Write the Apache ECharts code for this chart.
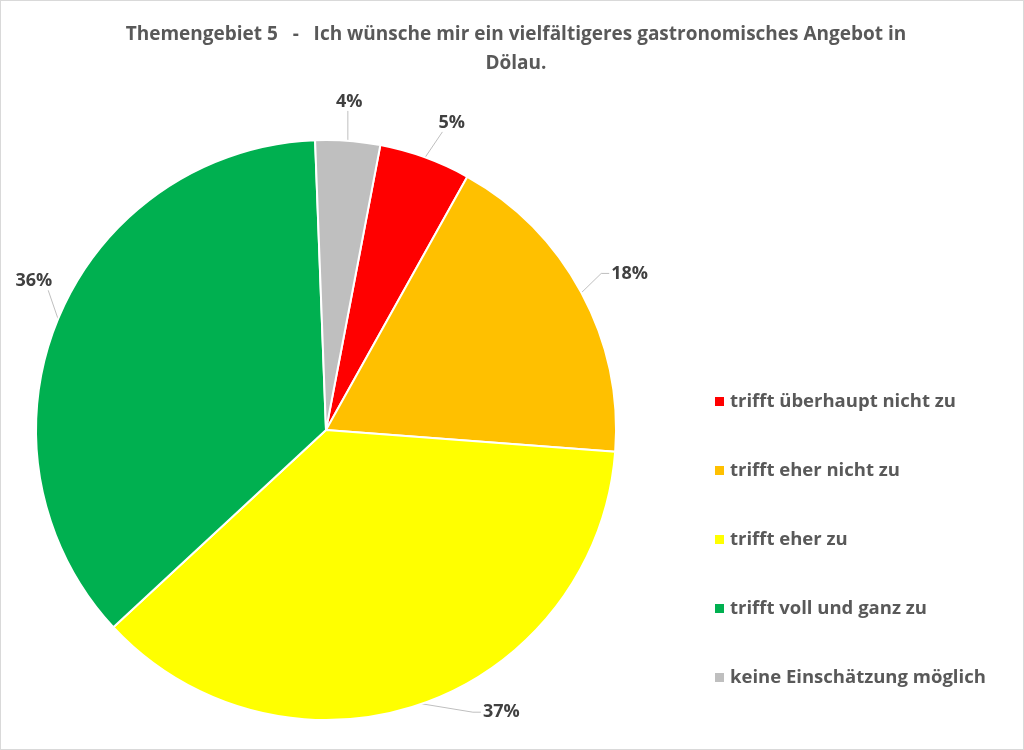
<!DOCTYPE html>
<html>
<head>
<meta charset="utf-8">
<script src="https://cdn.jsdelivr.net/npm/echarts@6/dist/echarts.min.js"></script>
<style>
html,body{margin:0;padding:0;background:#fff;}
#chart{width:1022px;height:748px;border:1px solid #d9d9d9;}
</style>
</head>
<body>
<div id="chart"></div>
<script>
// Kategorien und Anteile (aus dem Bild geschätzt, in %)
const categories = ['trifft überhaupt nicht zu', 'trifft eher nicht zu', 'trifft eher zu', 'trifft voll und ganz zu', 'keine Einschätzung möglich'];
const shares = [5.1, 18.1, 36.9, 36.3, 3.6];
const colors = ['#FF0000', '#FFC000', '#FFFF00', '#00B050', '#BFBFBF'];

const titleText = 'Themengebiet 5   -   Ich wünsche mir ein vielfältigeres gastronomisches Angebot in\nDölau.';

// Verschiebung der Beschriftungen wie bei Excel "optimale Position"
const labelShift = [[-12, -10], [-5, -6], [37, -18], [35, -27], [-29, -11]];

const myChart = echarts.init(document.getElementById('chart'));

let pieData = categories.map((name, i) => ({
	name: name,
	value: shares[i],
	itemStyle: { color: colors[i] }
}));

// Führungslinie vom Segmentrand zur verschobenen Beschriftung
function leaderLine(p0, rect, s) {
	let x1 = rect.x + s[0], y1 = rect.y + s[1],
		x2 = x1 + rect.width, y2 = y1 + rect.height;
	let px = p0[0], py = p0[1];
	let ddx = px < x1 ? x1 - px : (px > x2 ? px - x2 : 0);
	let ddy = py < y1 ? y1 - py : (py > y2 ? py - y2 : 0);
	if (ddy >= ddx) {
		// oben / unten andocken
		let tx = Math.min(Math.max(px, x1 + 4), x2 - 4);
		let ty = py < y1 ? y1 : y2;
		return [p0, [tx, ty]];
	}
	// seitlich andocken mit kurzem Knick
	let ty = (y1 + y2) / 2;
	let tx = px < x1 ? x1 - 2 : x2 + 2;
	let ex = px < x1 ? tx - 8 : tx + 8;
	return [p0, [ex, ty], [tx, ty]];
}

myChart.setOption({
	animation: false,
	title: {
		text: titleText,
		left: 510,
		top: 14,
		textAlign: 'center',
		textStyle: {
			fontFamily: 'Open Sans',
			fontSize: 19,
			fontWeight: 'bold',
			color: '#595959',
			lineHeight: 29,
			align: 'center'
		}
	},
	legend: {
		orient: 'vertical',
		left: 707,
		top: 386,
		itemWidth: 11,
		itemHeight: 11,
		itemGap: 50,
		icon: 'rect',
		textStyle: {
			fontFamily: 'Open Sans',
			fontSize: 18.5,
			fontWeight: 'bold',
			color: '#595959'
		},
		data: categories
	},
	series: [{
		type: 'pie',
		center: [325, 429],
		radius: [0, 290],
		startAngle: 79.2,
		clockwise: true,
		data: pieData,
		itemStyle: {
			borderColor: '#ffffff',
			borderWidth: 2
		},
		label: {
			show: true,
			position: 'outside',
			overflow: 'none',
			fontFamily: 'Open Sans',
			fontSize: 18,
			fontWeight: 'bold',
			color: '#404040',
			formatter: (p) => Math.round(p.percent) + '%'
		},
		labelLine: {
			show: true,
			length: 28,
			length2: 10,
			lineStyle: { color: '#bfbfbf', width: 1 }
		},
		labelLayout: function (params) {
			let s = labelShift[params.dataIndex];
			let res = { dx: s[0], dy: s[1] };
			if (params.labelLinePoints && params.labelRect) {
				res.labelLinePoints = leaderLine(params.labelLinePoints[0], params.labelRect, s);
			}
			return res;
		}
	}]
});
</script>
</body>
</html>
